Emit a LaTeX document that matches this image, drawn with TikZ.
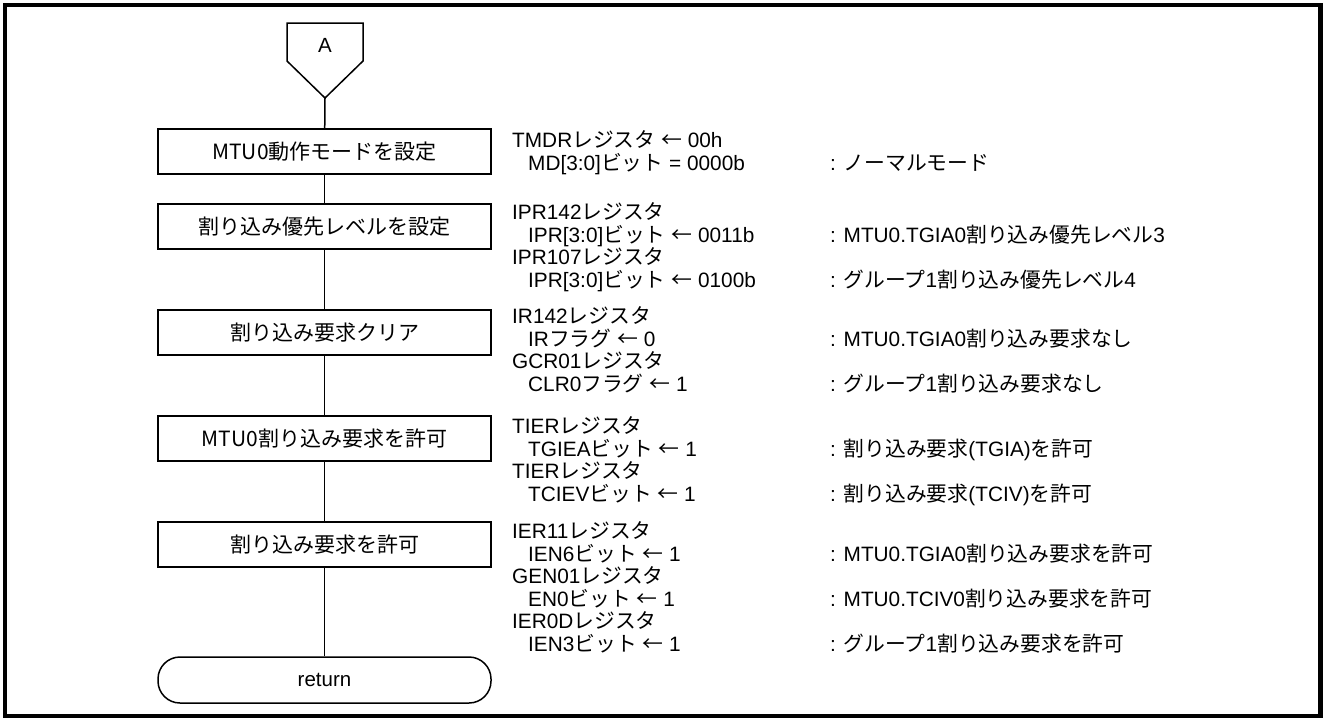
\documentclass[tikz,border=0pt]{standalone}
\usepackage{fontspec}
\setmainfont{Liberation Sans}
\newfontfamily\jp{Noto Sans CJK JP}
\newcommand{\la}{{\jp ←}}
\begin{document}
\begin{tikzpicture}[x=1pt,y=-1pt,
  proc/.style={draw, line width=1.5pt, minimum width=333pt, minimum height=45pt, inner sep=0pt,
    font=\jp\fontsize{21}{24}\selectfont},
  term/.style={draw, line width=1.5pt, rounded corners=22pt, minimum width=333pt, minimum height=46pt, inner sep=0pt,
    font=\fontsize{20.5}{24}\selectfont},
  lbl/.style={anchor=base west, inner sep=0pt, font=\fontsize{20.8}{24}\selectfont},
  flow/.style={line width=1.5pt}]
\useasboundingbox (0,0) rectangle (1324,721);
\draw[line width=4.3pt] (5,5.3) rectangle (1320.5,716);
% off-page connector
\draw[flow] (287,23) -- (363,23) -- (363,61) -- (325,98) -- (287,61) -- cycle;
\node[font=\fontsize{20.5}{24}\selectfont] (A) at (325,45) {A};
\coordinate (Atip) at (325,98);
% process boxes
\node[proc] (b1) at (324.5,151.5) {MTU0動作モードを設定};
\node[proc] (b2) at (324.5,226.5) {割り込み優先レベルを設定};
\node[proc] (b3) at (324.5,332.5) {割り込み要求クリア};
\node[proc] (b4) at (324.5,438.5) {MTU0割り込み要求を許可};
\node[proc] (b5) at (324.5,544.5) {割り込み要求を許可};
\node[term] (ret) at (324.5,680) {return};
% connectors
\draw[flow] (Atip) -- (b1);
\draw[flow] (b1) -- (b2);
\draw[flow] (b2) -- (b3);
\draw[flow] (b3) -- (b4);
\draw[flow] (b4) -- (b5);
\draw[flow] (b5) -- (ret);
% block 1
\node[lbl] (l11) at (512,147.5) {TMDR{\jp レジスタ} \la{} 00h};
\node[lbl] (l12) at (528,170) {MD[3:0]{\jp ビット} = 0000b};
\node[lbl] (c12) at (830,170) {: {\jp ノーマルモード}};
% block 2
\node[lbl] (l21) at (512,219.5) {IPR142{\jp レジスタ}};
\node[lbl] (l22) at (528,242) {IPR[3:0]{\jp ビット} \la{} 0011b};
\node[lbl] (c22) at (830,242) {: MTU0.TGIA0{\jp 割り込み優先レベル}3};
\node[lbl] (l23) at (512,264.5) {IPR107{\jp レジスタ}};
\node[lbl] (l24) at (528,287) {IPR[3:0]{\jp ビット} \la{} 0100b};
\node[lbl] (c24) at (830,287) {: {\jp グループ}1{\jp 割り込み優先レベル}4};
% block 3
\node[lbl] (l31) at (512,323.5) {IR142{\jp レジスタ}};
\node[lbl] (l32) at (528,346) {IR{\jp フラグ} \la{} 0};
\node[lbl] (c32) at (830,346) {: MTU0.TGIA0{\jp 割り込み要求なし}};
\node[lbl] (l33) at (512,368.5) {GCR01{\jp レジスタ}};
\node[lbl] (l34) at (528,391) {CLR0{\jp フラグ} \la{} 1};
\node[lbl] (c34) at (830,391) {: {\jp グループ}1{\jp 割り込み要求なし}};
% block 4
\node[lbl] (l41) at (512,433.5) {TIER{\jp レジスタ}};
\node[lbl] (l42) at (528,456) {TGIEA{\jp ビット} \la{} 1};
\node[lbl] (c42) at (830,456) {: {\jp 割り込み要求}(TGIA){\jp を許可}};
\node[lbl] (l43) at (512,478.5) {TIER{\jp レジスタ}};
\node[lbl] (l44) at (528,501) {TCIEV{\jp ビット} \la{} 1};
\node[lbl] (c44) at (830,501) {: {\jp 割り込み要求}(TCIV){\jp を許可}};
% block 5
\node[lbl] (l51) at (512,538.5) {IER11{\jp レジスタ}};
\node[lbl] (l52) at (528,561) {IEN6{\jp ビット} \la{} 1};
\node[lbl] (c52) at (830,561) {: MTU0.TGIA0{\jp 割り込み要求を許可}};
\node[lbl] (l53) at (512,583.5) {GEN01{\jp レジスタ}};
\node[lbl] (l54) at (528,606) {EN0{\jp ビット} \la{} 1};
\node[lbl] (c54) at (830,606) {: MTU0.TCIV0{\jp 割り込み要求を許可}};
\node[lbl] (l55) at (512,628.5) {IER0D{\jp レジスタ}};
\node[lbl] (l56) at (528,651) {IEN3{\jp ビット} \la{} 1};
\node[lbl] (c56) at (830,651) {: {\jp グループ}1{\jp 割り込み要求を許可}};
\end{tikzpicture}
\end{document}
